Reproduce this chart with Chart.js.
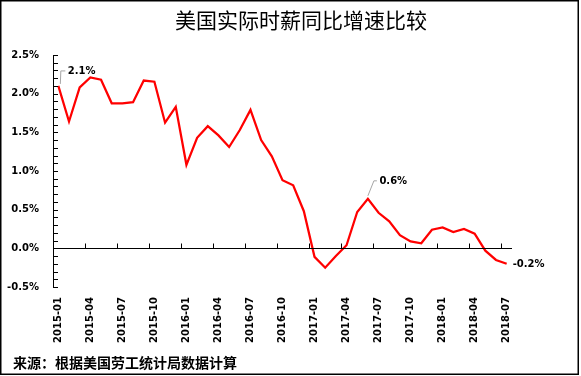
<!DOCTYPE html>
<html>
<head>
<meta charset="utf-8">
<script src="https://cdn.jsdelivr.net/npm/chart.js@4/dist/chart.umd.min.js"></script>
<style>
html,body{margin:0;padding:0;background:#fff;}
#wrap{width:581px;height:376px;position:relative;}
</style>
</head>
<body>
<div id="wrap"><canvas id="c" width="581" height="376"></canvas></div>
<script>
const categories = ["2015-01","2015-02","2015-03","2015-04","2015-05","2015-06","2015-07","2015-08","2015-09","2015-10","2015-11","2015-12",
"2016-01","2016-02","2016-03","2016-04","2016-05","2016-06","2016-07","2016-08","2016-09","2016-10","2016-11","2016-12",
"2017-01","2017-02","2017-03","2017-04","2017-05","2017-06","2017-07","2017-08","2017-09","2017-10","2017-11","2017-12",
"2018-01","2018-02","2018-03","2018-04","2018-05","2018-06","2018-07"];
const wageGrowth = [2.10,1.64,2.08,2.21,2.18,1.875,1.875,1.89,2.17,2.155,1.625,1.83,
1.08,1.43,1.58,1.46,1.31,1.53,1.79,1.40,1.19,0.88,0.815,0.48,
-0.11,-0.25,-0.10,0.04,0.47,0.64,0.46,0.35,0.17,0.09,0.065,0.24,
0.27,0.21,0.25,0.19,-0.03,-0.15,-0.20];
const yTicks = [-0.5,0.0,0.5,1.0,1.5,2.0,2.5];
const annotIndex = [0,29,42];
const annotText = ["2.1%","0.6%","-0.2%"];
const titleText = "美国实际时薪同比增速比较";
const sourceText = "来源：根据美国劳工统计局数据计算";

const FONT = "DejaVu Sans";

const deco = {
  id:'deco',
  beforeDraw(chart){
    const ctx = chart.ctx;
    ctx.save();
    ctx.fillStyle = '#fff';
    ctx.fillRect(0,0,chart.width,chart.height);
    ctx.restore();
  },
  afterDraw(chart){
    const ctx = chart.ctx;
    const x = chart.scales.x, y = chart.scales.y;
    const ca = chart.chartArea;
    ctx.save();
    // frame
    ctx.strokeStyle = '#000';
    ctx.lineWidth = 1.5;
    ctx.strokeRect(0.75,0.75,577.5,373.5);
    // title
    ctx.fillStyle = '#000';
    ctx.font = '21px "Noto Sans CJK SC"';
    ctx.textAlign = 'center';
    ctx.textBaseline = 'middle';
    ctx.fillText(titleText, 301, 20);
    // source
    ctx.font = 'bold 14px "Noto Sans CJK SC"';
    ctx.textAlign = 'left';
    ctx.fillText(sourceText, 13, 363);
    // zero line
    const y0 = Math.round(y.getPixelForValue(0)) + 0.5;
    ctx.lineWidth = 1;
    ctx.strokeStyle = '#000';
    ctx.beginPath();
    ctx.moveTo(ca.left, y0); ctx.lineTo(ca.right, y0);
    const half = (x.getPixelForValue(1) - x.getPixelForValue(0)) / 2;
    for (let i = 3; i < categories.length; i += 3) {
      const bx = Math.round(x.getPixelForValue(i) - half) + 0.5;
      ctx.moveTo(bx, y0); ctx.lineTo(bx, y0 - 5);
    }
    // y minor ticks every 0.1
    for (let k = -5; k <= 25; k++) {
      const ty = Math.round(y.getPixelForValue(k/10)) + 0.5;
      ctx.moveTo(ca.left, ty); ctx.lineTo(ca.left + 5, ty);
    }
    ctx.stroke();
    // annotations
    const meta = chart.getDatasetMeta(0);
    ctx.font = 'bold 10px "' + FONT + '"';
    ctx.textBaseline = 'middle';
    ctx.textAlign = 'left';
    annotIndex.forEach((idx, j) => {
      const p = meta.data[idx];
      const px = p.x, py = p.y;
      ctx.strokeStyle = '#A6A6A6';
      ctx.lineWidth = 1;
      if (j === 0) {
        ctx.beginPath();
        ctx.moveTo(px + 2, py - 2); ctx.lineTo(px + 2.5, py - 15); ctx.lineTo(px + 7, py - 15);
        ctx.stroke();
        ctx.fillStyle = '#000';
        ctx.fillText(annotText[j], px + 9.5, py - 14.5);
      } else if (j === 1) {
        ctx.beginPath();
        ctx.moveTo(px, py - 3); ctx.lineTo(px + 6, py - 18); ctx.lineTo(px + 9, py - 18);
        ctx.stroke();
        ctx.fillStyle = '#000';
        ctx.fillText(annotText[j], px + 11.5, py - 17);
      } else {
        ctx.fillStyle = '#000';
        ctx.fillText(annotText[j], px + 6, py + 1);
      }
    });
    ctx.restore();
  }
};

new Chart(document.getElementById('c'), {
  type: 'line',
  data: {
    labels: categories,
    datasets: [{
      data: wageGrowth,
      borderColor: '#FF0000',
      borderWidth: 2.25,
      pointRadius: 0,
      tension: 0,
      fill: false
    }]
  },
  options: {
    responsive: false,
    animation: false,
    devicePixelRatio: 1,
    layout: { padding: { left: 0, right: 69, top: 55, bottom: 29 } },
    plugins: { legend: { display: false }, tooltip: { enabled: false }, title: { display: false } },
    scales: {
      x: {
        type: 'category',
        offset: true,
        grid: { display: false, drawTicks: false },
        border: { display: false },
        afterFit(s) { s.height = 60; },
        ticks: {
          autoSkip: false,
          maxRotation: 90,
          minRotation: 90,
          padding: 10,
          color: '#000',
          font: { family: FONT, size: 10, weight: 'bold' },
          callback(v, i) { return i % 3 === 0 ? categories[i] : ''; }
        }
      },
      y: {
        min: -0.5,
        max: 2.5,
        afterFit(s) { s.width = 53; },
        afterBuildTicks(s) { s.ticks = yTicks.map(v => ({ value: v })); },
        grid: { display: false, drawTicks: false },
        border: { display: true, color: '#000', width: 1 },
        ticks: {
          padding: 14,
          color: '#000',
          font: { family: FONT, size: 10, weight: 'bold' },
          callback(v) { return v.toFixed(1) + '%'; }
        }
      }
    }
  },
  plugins: [deco]
});
</script>
</body>
</html>
